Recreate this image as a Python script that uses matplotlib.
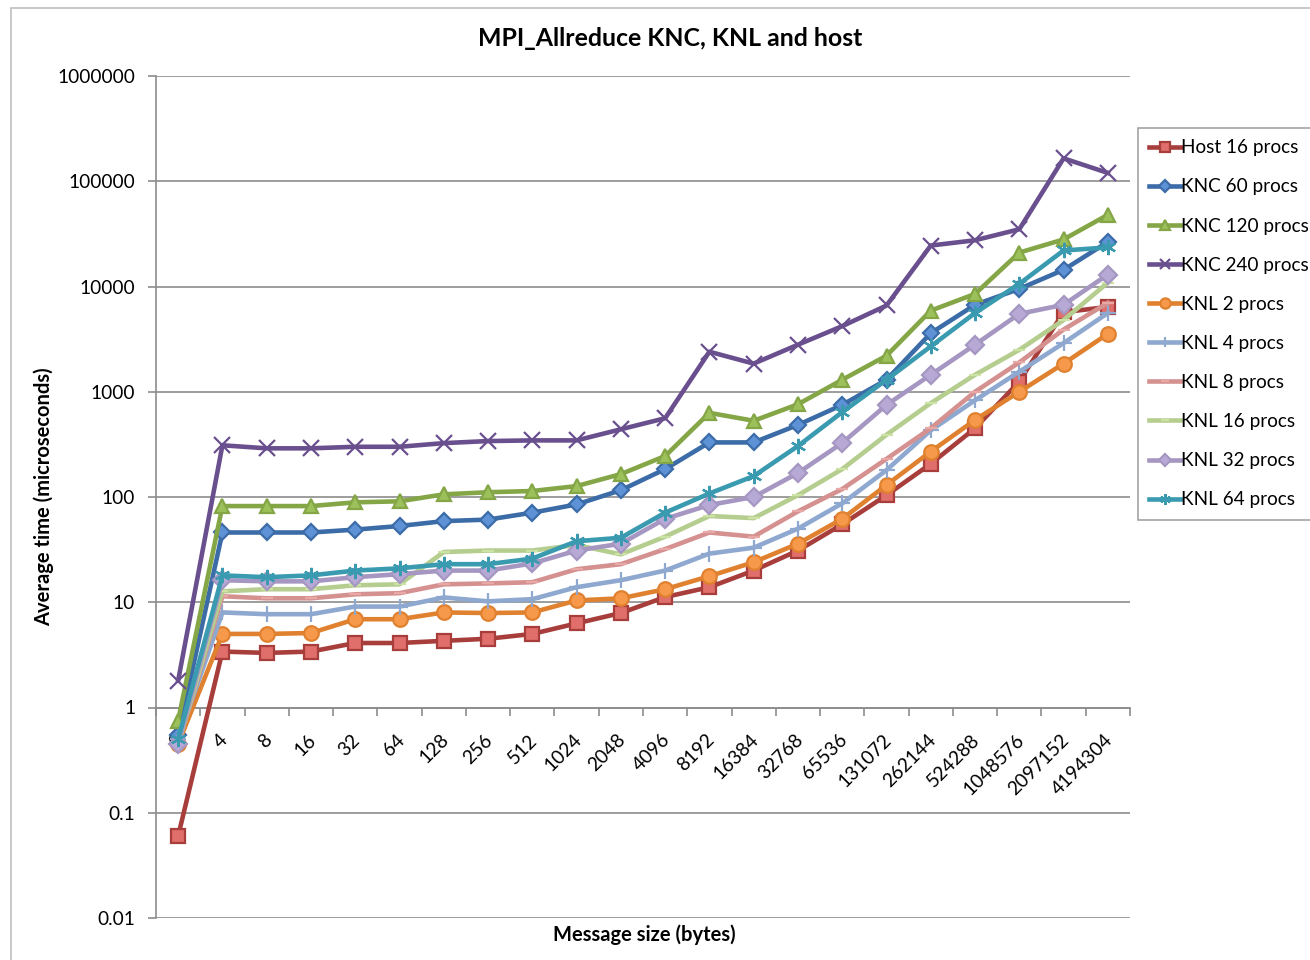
import matplotlib
matplotlib.use("Agg")
import matplotlib.pyplot as plt
import matplotlib.transforms as mtransforms
from matplotlib.patches import Rectangle
import numpy as np

plt.rcParams['font.family'] = ['Lato', 'DejaVu Sans']

sizes = ["0", "4", "8", "16", "32", "64", "128", "256", "512", "1024", "2048", "4096",
         "8192", "16384", "32768", "65536", "131072", "262144", "524288", "1048576",
         "2097152", "4194304"]

host16 = [0.06, 3.4, 3.3, 3.4, 4.1, 4.1, 4.3, 4.5, 5.0, 6.3, 7.9, 11.2, 13.9, 20, 31, 55,
          104, 207, 450, 1250, 5700, 6400]
knc60 = [0.55, 46, 46, 46, 49, 53, 59, 61, 71, 85, 116, 184, 330, 330, 484, 750, 1300,
         3600, 6700, 9500, 14400, 26500]
knc120 = [0.75, 82, 82, 82, 89, 91, 106, 111, 114, 127, 165, 245, 630, 530, 760, 1300,
          2200, 5900, 8500, 21000, 28000, 48000]
knc240 = [1.8, 310, 290, 290, 300, 300, 325, 340, 345, 345, 440, 560, 2400, 1850, 2800,
          4200, 6600, 24500, 27500, 35000, 165000, 120000]
knl2 = [0.45, 5.0, 5.0, 5.1, 6.9, 6.9, 8.0, 7.9, 8.0, 10.4, 10.9, 13.3, 17.7, 24, 36, 62,
        130, 270, 540, 1000, 1850, 3550]
knl4 = [0.5, 8.0, 7.7, 7.7, 9.1, 9.1, 11.1, 10.2, 10.7, 13.9, 16.2, 20, 29, 33, 50, 87,
        180, 430, 830, 1550, 2900, 5600]
knl8 = [0.45, 11.4, 10.9, 10.9, 11.9, 12.2, 14.8, 15.1, 15.5, 20.6, 23, 32, 46, 42, 73,
        119, 230, 450, 1000, 1900, 3900, 7000]
knl16 = [0.45, 12.7, 13.3, 13.3, 14.5, 14.8, 30, 31, 31, 35, 28.5, 42, 66, 63, 104, 184,
         390, 780, 1450, 2500, 4800, 10900]
knl32 = [0.45, 16.2, 15.8, 15.8, 17.3, 18.5, 20, 20, 23.4, 31, 36, 62, 84, 100, 169, 326,
         750, 1450, 2800, 5500, 6700, 13000]
knl64 = [0.5, 18, 17.3, 18, 20, 21, 23, 23, 26, 38, 41, 71, 108, 158, 305, 640, 1300,
         2700, 5600, 10600, 22000, 23500]

series_names = ["Host 16 procs", "KNC 60 procs", "KNC 120 procs", "KNC 240 procs",
                "KNL 2 procs", "KNL 4 procs", "KNL 8 procs", "KNL 16 procs",
                "KNL 32 procs", "KNL 64 procs"]
series_vals = [host16, knc60, knc120, knc240, knl2, knl4, knl8, knl16, knl32, knl64]

# style: (line color, marker, marker face, marker edge, marker size)
styles = [
    ("#A83E3B", "s", "#E06E6B", "#A83E3B", 10),
    ("#3B6CA8", "D", "#5E92D6", "#3B6CA8", 8.5),
    ("#84A646", "^", "#9CC05A", "#84A646", 10.5),
    ("#6A4F8E", "x", "none", "#6A4F8E", 11),
    ("#E0812F", "o", "#F7994A", "#E0812F", 10.5),
    ("#8EA8D0", "+", "none", "#8EA8D0", 11),
    ("#D49190", "_", "none", "#E8A8A6", 8),
    ("#B5CD8E", "_", "none", "#CDE3A6", 8),
    ("#A597C2", "D", "#B7A9D6", "#A597C2", 9),
    ("#3A9AB0", (6, 2, 0), "none", "#3A9AB0", 11),
]

FS = 13.8

fig = plt.figure(figsize=(13.1, 9.6), dpi=100)
fig.patch.set_facecolor("white")
fig.add_artist(Rectangle((11 / 1310, -0.05), 1.2, 1 - 8 / 960 + 0.05,
                         transform=fig.transFigure, fill=False,
                         edgecolor="#BFBFBF", linewidth=1.2))

ax = fig.add_axes([156 / 1310, 1 - 918 / 960, (1130 - 156) / 1310, (918 - 76) / 960])
x = np.arange(len(sizes))

for i, (name, vals, st) in enumerate(zip(series_names, series_vals, styles)):
    lc, mk, mf, me, ms = st
    ax.plot(x, vals, color=lc, linewidth=3.3, marker=mk, markerfacecolor=mf,
            markeredgecolor=me, markersize=ms, markeredgewidth=1.6, label=name,
            zorder=3 + i, solid_joinstyle="round")

ax.set_yscale("log")
ax.set_ylim(0.01, 1e6)
ax.set_xlim(-0.5, len(sizes) - 0.5)

yt = [0.01, 0.1, 1, 10, 100, 1000, 10000, 100000, 1000000]
ax.set_yticks(yt)
ax.set_yticklabels(["0.01", "0.1", "1", "10", "100", "1000", "10000", "100000", "1000000"])
ax.yaxis.set_minor_locator(matplotlib.ticker.NullLocator())
ax.grid(axis="y", which="major", color="#8C8C8C", linewidth=1.2)
ax.set_axisbelow(True)

for s in ["top", "right"]:
    ax.spines[s].set_visible(False)
ax.spines["left"].set_color("#8C8C8C")
ax.spines["left"].set_linewidth(1.2)
ax.spines["bottom"].set_position(("data", 1))
ax.spines["bottom"].set_color("#8C8C8C")
ax.spines["bottom"].set_linewidth(1.2)

ax.set_xticks(x)
ax.set_xticklabels(sizes, rotation=45, ha="right", va="top", rotation_mode="anchor",
                   fontsize=FS)
ax.set_xticks(np.arange(-0.5, len(sizes), 1.0), minor=True)
ax.tick_params(axis="x", which="major", length=0, pad=17)
ax.tick_params(axis="x", which="minor", length=6, color="#8C8C8C", width=1.2,
               direction="out")
ax.tick_params(axis="y", which="major", length=6, color="#8C8C8C", width=1.2,
               labelsize=FS, pad=9)

offset = mtransforms.ScaledTranslation(-4 / 100, 0, fig.dpi_scale_trans)
for lbl in ax.get_xticklabels():
    lbl.set_transform(lbl.get_transform() + offset)

ax.set_ylabel("Average time (microseconds)", fontsize=14.5, fontweight="bold", labelpad=2)
fig.text(644 / 1310, 1 - 935 / 960, "Message size (bytes)", ha="center", va="center",
         fontsize=14.5, fontweight="bold")
fig.text(670 / 1310, 1 - 38 / 960, "MPI_Allreduce KNC, KNL and host", ha="center",
         va="center", fontsize=17.9, fontweight="bold")

leg = fig.legend(loc="upper left", bbox_to_anchor=(1138 / 1310, 1 - 128 / 960),
                 bbox_transform=fig.transFigure, frameon=True, fancybox=False,
                 fontsize=13.6, handlelength=1.65, handletextpad=0.05,
                 labelspacing=1.17, borderpad=0.6, markerscale=0.7, borderaxespad=0)
leg.get_frame().set_edgecolor("#8C8C8C")
leg.get_frame().set_linewidth(1.2)

fig.savefig("out.png", dpi=100, facecolor="white")
